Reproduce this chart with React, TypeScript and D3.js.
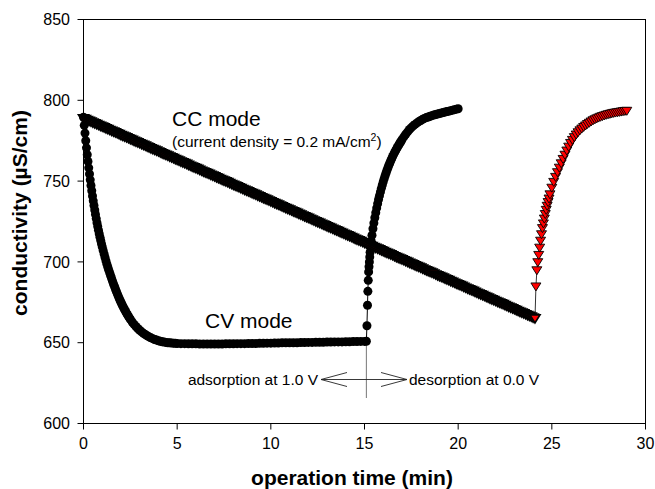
import React from "react";
import * as d3 from "d3";

// ---- data -------------------------------------------------------------
// CV mode: adsorption at 1.0 V, then desorption at 0.0 V  [time (min), conductivity (µS/cm)]
const cvAdsorption: [number, number][] = [
  [0.0, 789.5], [0.04, 784.5], [0.08, 779.7], [0.12, 775.0], [0.16, 770.6], [0.2, 766.3],
  [0.24, 762.2], [0.28, 758.2], [0.32, 754.4], [0.36, 750.8], [0.4, 747.3], [0.44, 744.0],
  [0.48, 740.8], [0.52, 737.8], [0.56, 734.9], [0.6, 732.1], [0.64, 729.4], [0.68, 726.8],
  [0.72, 724.3], [0.76, 721.9], [0.8, 719.6], [0.84, 717.4], [0.88, 715.3], [0.92, 713.3],
  [0.96, 711.3], [1.0, 709.4], [1.05, 707.1], [1.1, 704.9], [1.15, 702.7], [1.2, 700.6],
  [1.25, 698.6], [1.3, 696.7], [1.35, 694.9], [1.4, 693.1], [1.45, 691.4], [1.5, 689.7],
  [1.55, 688.0], [1.6, 686.4], [1.65, 684.9], [1.7, 683.4], [1.75, 681.9], [1.8, 680.4],
  [1.85, 679.0], [1.9, 677.6], [1.95, 676.3], [2.0, 675.0], [2.05, 673.8], [2.1, 672.6],
  [2.15, 671.5], [2.2, 670.4], [2.25, 669.3], [2.3, 668.3], [2.35, 667.3], [2.4, 666.3],
  [2.45, 665.4], [2.5, 664.5], [2.6, 662.8], [2.7, 661.3], [2.8, 660.0], [2.9, 658.8],
  [3.0, 657.7], [3.1, 656.7], [3.2, 655.8], [3.3, 655.0], [3.4, 654.3], [3.5, 653.6],
  [3.6, 653.0], [3.7, 652.5], [3.8, 652.0], [3.9, 651.6], [4.0, 651.2], [4.1, 650.9],
  [4.2, 650.6], [4.3, 650.4], [4.4, 650.2], [4.5, 650.0], [4.6, 649.9], [4.7, 649.8],
  [4.8, 649.7], [4.9, 649.6], [5.0, 649.5], [5.2, 649.4], [5.4, 649.4], [5.6, 649.3],
  [5.8, 649.3], [6.0, 649.3], [6.2, 649.2], [6.4, 649.2], [6.6, 649.2], [6.8, 649.2],
  [7.0, 649.2], [7.2, 649.2], [7.4, 649.2], [7.6, 649.3], [7.8, 649.3], [8.0, 649.3],
  [8.2, 649.4], [8.4, 649.4], [8.6, 649.4], [8.8, 649.5], [9.0, 649.5], [9.2, 649.5],
  [9.4, 649.6], [9.6, 649.6], [9.8, 649.7], [10.0, 649.7], [10.2, 649.8], [10.4, 649.8],
  [10.6, 649.9], [10.8, 649.9], [11.0, 650.0], [11.2, 650.0], [11.4, 650.0], [11.6, 650.1],
  [11.8, 650.1], [12.0, 650.2], [12.2, 650.2], [12.4, 650.3], [12.6, 650.3], [12.8, 650.3],
  [13.0, 650.4], [13.2, 650.4], [13.4, 650.5], [13.6, 650.5], [13.8, 650.5], [14.0, 650.6],
  [14.2, 650.6], [14.4, 650.7], [14.6, 650.7], [14.8, 650.8], [15.0, 650.8], [15.1, 650.9],
];

const cvDesorption: [number, number][] = [
  [15.13, 660.5], [15.16, 673.2], [15.18, 681.8], [15.2, 688.6], [15.22, 693.8], [15.24, 697.0],
  [15.26, 700.0], [15.28, 703.0], [15.3, 706.0], [15.33, 709.5], [15.36, 712.8], [15.4, 716.5],
  [15.45, 720.5], [15.5, 724.0], [15.55, 727.3], [15.6, 730.4], [15.65, 733.3], [15.7, 736.0],
  [15.75, 738.6], [15.8, 741.0], [15.85, 743.3], [15.9, 745.5], [15.95, 747.6], [16.0, 749.6],
  [16.05, 751.5], [16.1, 753.3], [16.15, 755.0], [16.2, 756.7], [16.25, 758.3], [16.3, 759.8],
  [16.35, 761.2], [16.4, 762.6], [16.45, 763.9], [16.5, 765.2], [16.55, 766.4], [16.6, 767.6],
  [16.65, 768.7], [16.7, 769.8], [16.75, 770.8], [16.8, 771.8], [16.85, 772.8], [16.9, 773.7],
  [16.95, 774.6], [17.0, 775.7], [17.1, 777.4], [17.2, 779.0], [17.3, 780.5], [17.4, 781.9],
  [17.5, 783.1], [17.6, 784.2], [17.7, 785.1], [17.8, 786.0], [17.9, 786.8], [18.0, 787.5],
  [18.1, 788.2], [18.2, 788.8], [18.3, 789.3], [18.4, 789.7], [18.5, 790.1], [18.6, 790.5],
  [18.7, 790.9], [18.8, 791.2], [18.9, 791.5], [19.0, 791.8], [19.1, 792.1], [19.2, 792.4],
  [19.3, 792.7], [19.4, 793.0], [19.5, 793.3], [19.6, 793.6], [19.7, 793.9], [19.8, 794.2],
  [19.9, 794.5], [20.0, 794.8],
];

// CC mode: adsorption logged every 0.1 min from t = 0
const ccSampleInterval = 0.1;
const ccAdsorptionValues: number[] = [
  788.5, 788.0, 787.5, 787.0, 786.5, 785.9, 785.4, 784.9, 784.4, 783.9,
  783.4, 782.9, 782.3, 781.8, 781.3, 780.8, 780.3, 779.8, 779.3, 778.7,
  778.2, 777.7, 777.2, 776.7, 776.2, 775.7, 775.2, 774.6, 774.1, 773.6,
  773.1, 772.6, 772.1, 771.6, 771.0, 770.5, 770.0, 769.5, 769.0, 768.5,
  768.0, 767.5, 766.9, 766.4, 765.9, 765.4, 764.9, 764.4, 763.9, 763.3,
  762.8, 762.3, 761.8, 761.3, 760.8, 760.3, 759.7, 759.2, 758.7, 758.2,
  757.7, 757.2, 756.7, 756.1, 755.6, 755.1, 754.6, 754.1, 753.6, 753.1,
  752.6, 752.0, 751.5, 751.0, 750.5, 750.0, 749.5, 749.0, 748.4, 747.9,
  747.4, 746.9, 746.4, 745.9, 745.4, 744.8, 744.3, 743.8, 743.3, 742.8,
  742.3, 741.8, 741.3, 740.7, 740.2, 739.7, 739.2, 738.7, 738.2, 737.7,
  737.1, 736.6, 736.1, 735.6, 735.1, 734.6, 734.1, 733.5, 733.0, 732.5,
  732.0, 731.5, 731.0, 730.5, 730.0, 729.4, 728.9, 728.4, 727.9, 727.4,
  726.9, 726.4, 725.8, 725.3, 724.8, 724.3, 723.8, 723.3, 722.8, 722.3,
  721.7, 721.2, 720.7, 720.2, 719.7, 719.2, 718.7, 718.1, 717.6, 717.1,
  716.6, 716.1, 715.6, 715.1, 714.6, 714.0, 713.5, 713.0, 712.5, 712.0,
  711.5, 711.0, 710.4, 709.9, 709.4, 708.9, 708.4, 707.9, 707.4, 706.8,
  706.3, 705.8, 705.3, 704.8, 704.3, 703.8, 703.2, 702.7, 702.2, 701.7,
  701.2, 700.7, 700.2, 699.7, 699.1, 698.6, 698.1, 697.6, 697.1, 696.6,
  696.1, 695.5, 695.0, 694.5, 694.0, 693.5, 693.0, 692.5, 691.9, 691.4,
  690.9, 690.4, 689.9, 689.4, 688.9, 688.4, 687.8, 687.3, 686.8, 686.3,
  685.8, 685.3, 684.8, 684.2, 683.7, 683.2, 682.7, 682.2, 681.7, 681.2,
  680.6, 680.1, 679.6, 679.1, 678.6, 678.1, 677.6, 677.0, 676.5, 676.0,
  675.5, 675.0, 674.5, 674.0, 673.5, 672.9, 672.4, 671.9, 671.4, 670.9,
  670.4, 669.9, 669.3, 668.8, 668.3, 667.8, 667.3, 666.8, 666.3, 665.8,
  665.2, 664.7,
];

const ccDesorption: [number, number][] = [
  [24.15, 684.5], [24.2, 694.5], [24.25, 699.5], [24.3, 704.0], [24.35, 708.5], [24.4, 712.8],
  [24.45, 716.8], [24.5, 720.6], [24.55, 723.5], [24.6, 726.5], [24.65, 729.3], [24.7, 731.9],
  [24.75, 734.4], [24.8, 736.7], [24.85, 738.9], [24.9, 741.5], [25.0, 745.6], [25.1, 749.2],
  [25.2, 752.3], [25.3, 755.2], [25.4, 758.0], [25.5, 760.7], [25.6, 763.4], [25.7, 766.0],
  [25.8, 768.6], [25.9, 771.0], [26.0, 773.3], [26.1, 775.2], [26.2, 776.9], [26.3, 778.5],
  [26.4, 779.9], [26.5, 781.1], [26.6, 782.2], [26.7, 783.2], [26.8, 784.1], [26.9, 785.0],
  [27.0, 785.8], [27.1, 786.6], [27.2, 787.3], [27.3, 787.9], [27.4, 788.5], [27.5, 789.0],
  [27.6, 789.5], [27.7, 789.9], [27.8, 790.3], [27.9, 790.7], [28.0, 791.0], [28.1, 791.3],
  [28.2, 791.6], [28.3, 791.9], [28.4, 792.1], [28.5, 792.3], [28.6, 792.5], [28.7, 792.7],
  [28.8, 792.9], [28.9, 793.1], [29.0, 793.2],
];

const xTicks = [0, 5, 10, 15, 20, 25, 30];
const yTicks = [600, 650, 700, 750, 800, 850];

// ---- layout -----------------------------------------------------------
const W = 655;
const H = 489;
const FONT = "'Liberation Sans', Arial, Helvetica, sans-serif";

const x = d3.scaleLinear().domain([0, 30]).range([83.5, 645.5]);
const y = d3.scaleLinear().domain([600, 850]).range([423.5, 19.5]);

const cvSeries: [number, number][] = [...cvAdsorption, ...cvDesorption];
const ccAdsorption: [number, number][] = ccAdsorptionValues.map(
  (v, i) => [+(i * ccSampleInterval).toFixed(2), v] as [number, number]
);
const ccSeries: [number, number][] = [...ccAdsorption, ...ccDesorption];

const line = d3
  .line<[number, number]>()
  .x((d) => x(d[0]))
  .y((d) => y(d[1]));

const triangleDown = "M-5,-4L5,-4L0,4Z";

function Triangles({ data, edge, prefix }: { data: [number, number][]; edge: number; prefix: string }) {
  return (
    <g>
      {data.map((d, i) => (
        <path
          key={`${prefix}${i}`}
          d={triangleDown}
          transform={`translate(${x(d[0])},${y(d[1])})`}
          fill="#ff0000"
          stroke="#000"
          strokeWidth={edge}
        />
      ))}
    </g>
  );
}

export default function App() {
  const last = cvAdsorption[cvAdsorption.length - 1];
  const sx = x(last[0]);
  const arrowY = 379.5;

  return (
    <svg
      width={W}
      height={H}
      viewBox={`0 0 ${W} ${H}`}
      style={{ position: "absolute", left: 0, top: 0, background: "#fff" }}
      fontFamily={FONT}
    >
      <rect x={0} y={0} width={W} height={H} fill="#fff" />

      {/* plot frame */}
      <rect
        x={x(0)}
        y={y(850)}
        width={x(30) - x(0)}
        height={y(600) - y(850)}
        fill="none"
        stroke="#000"
        strokeWidth={1}
      />

      {/* y axis */}
      {yTicks.map((t) => (
        <g key={`y${t}`}>
          <line x1={x(0) - 6} x2={x(0)} y1={y(t)} y2={y(t)} stroke="#000" />
          <text x={70} y={y(t) + 5.7} fontSize={16} textAnchor="end" fill="#000">
            {t}
          </text>
        </g>
      ))}

      {/* x axis */}
      {xTicks.map((t) => (
        <g key={`x${t}`}>
          <line x1={x(t)} x2={x(t)} y1={y(600)} y2={y(600) + 6} stroke="#000" />
          <text x={x(t)} y={449} fontSize={16} textAnchor="middle" fill="#000">
            {t}
          </text>
        </g>
      ))}

      <text
        transform="translate(27,213) rotate(-90)"
        fontSize={21}
        fontWeight="bold"
        textAnchor="middle"
        fill="#000"
      >
        conductivity (µS/cm)
      </text>
      <text x={352} y={485} fontSize={21} fontWeight="bold" textAnchor="middle" fill="#000">
        operation time (min)
      </text>

      {/* switch marker below the CV adsorption end */}
      <line x1={sx} x2={sx} y1={y(last[1])} y2={398} stroke="#777" strokeWidth={1} />
      <line x1={321} x2={407} y1={arrowY} y2={arrowY} stroke="#222" strokeWidth={0.9} />
      <polyline points={`347,${arrowY - 7} 321,${arrowY} 347,${arrowY + 7}`} fill="none" stroke="#222" strokeWidth={0.9} />
      <polyline points={`381,${arrowY - 7} 407,${arrowY} 381,${arrowY + 7}`} fill="none" stroke="#222" strokeWidth={0.9} />
      <text x={318} y={384.5} fontSize={15.5} textAnchor="end" fill="#000">
        adsorption at 1.0 V
      </text>
      <text x={409} y={384.5} fontSize={15.5} fill="#000">
        desorption at 0.0 V
      </text>

      {/* CV mode series */}
      <path d={line(cvSeries) || ""} fill="none" stroke="#000" strokeWidth={1} />
      {cvSeries.map((d, i) => (
        <circle key={`cv${i}`} cx={x(d[0])} cy={y(d[1])} r={4.5} fill="#000" />
      ))}

      {/* CC mode series: densely logged adsorption merges into a dark band */}
      <path d={line(ccSeries) || ""} fill="none" stroke="#333" strokeWidth={1} />
      <Triangles data={ccAdsorption} edge={1.7} prefix="cca" />
      <Triangles data={ccDesorption} edge={0.9} prefix="ccd" />

      {/* labels */}
      <text x={172} y={125.5} fontSize={21} fill="#000">
        CC mode
      </text>
      <text x={172} y={147} fontSize={15.5} fill="#000">
        (current density = 0.2 mA/cm
        <tspan fontSize={10.5} dy={-6.5}>2</tspan>
        <tspan dy={6.5}>)</tspan>
      </text>
      <text x={205} y={327.5} fontSize={21} fill="#000">
        CV mode
      </text>
    </svg>
  );
}
